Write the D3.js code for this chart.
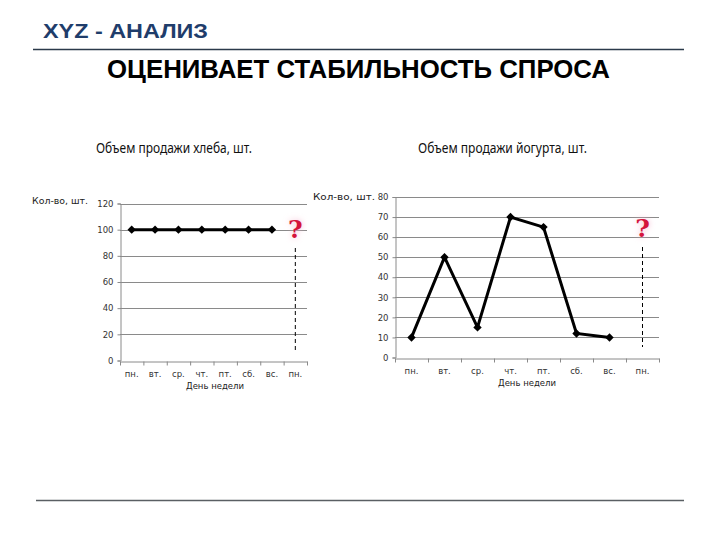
<!DOCTYPE html>
<html>
<head>
<meta charset="utf-8">
<script src="https://cdn.jsdelivr.net/npm/d3@7"></script>
<style>
  body { margin: 0; background: #fff; }
  svg { display: block; }
  .tick text { font-family: "DejaVu Sans", Verdana, sans-serif; }
</style>
</head>
<body>
<svg id="chart" width="720" height="540"></svg>
<script>
// Days of the week, last one is the "next monday" we want to predict
const days = ['пн.', 'вт.', 'ср.', 'чт.', 'пт.', 'сб.', 'вс.', 'пн.'];
const breadSales = [100, 100, 100, 100, 100, 100, 100];
const yogurtSales = [10, 50, 15, 70, 65, 12, 10];
const breadTicks = [0, 20, 40, 60, 80, 100, 120];
const yogurtTicks = [0, 10, 20, 30, 40, 50, 60, 70, 80];

const svg = d3.select('#chart');

// Header
svg.append('text')
  .attr('x', 43).attr('y', 38)
  .attr('font-family', '"Liberation Sans", Arial, sans-serif')
  .attr('font-weight', 'bold')
  .attr('font-size', 20)
  .attr('fill', '#1f3d6b')
  .attr('textLength', 165)
  .attr('lengthAdjust', 'spacingAndGlyphs')
  .text('XYZ - АНАЛИЗ');

svg.append('line')
  .attr('x1', 33).attr('x2', 684)
  .attr('y1', 49.5).attr('y2', 49.5)
  .attr('stroke', '#2b3a4a')
  .attr('stroke-width', 1.5);

svg.append('text')
  .attr('x', 107).attr('y', 78)
  .attr('font-family', '"Liberation Sans", Arial, sans-serif')
  .attr('font-weight', 'bold')
  .attr('font-size', 25)
  .attr('fill', '#000')
  .attr('textLength', 503)
  .attr('lengthAdjust', 'spacingAndGlyphs')
  .text('ОЦЕНИВАЕТ СТАБИЛЬНОСТЬ СПРОСА');

svg.append('line')
  .attr('x1', 36).attr('x2', 684)
  .attr('y1', 500.5).attr('y2', 500.5)
  .attr('stroke', '#5a5f63')
  .attr('stroke-width', 1.5);

// glow for the question marks
const defs = svg.append('defs');
defs.append('filter').attr('id', 'glow')
  .attr('x', '-50%').attr('y', '-50%').attr('width', '200%').attr('height', '200%')
  .append('feGaussianBlur').attr('stdDeviation', 3);

function drawChart(opts) {
  const { values, ticks, maxY, left, right, top, bottom } = opts;
  const g = svg.append('g');

  const x = d3.scaleLinear().domain([0, days.length]).range([left, right]);
  const y = d3.scaleLinear().domain([0, maxY]).range([bottom, top]);

  // title
  g.append('text')
    .attr('x', opts.titleX).attr('y', 153)
    .attr('font-family', '"Noto Sans", "Open Sans", sans-serif')
    .attr('font-size', 13.5)
    .attr('fill', '#111')
    .attr('textLength', opts.titleW)
    .attr('lengthAdjust', 'spacingAndGlyphs')
    .text(opts.title);

  // gridlines
  g.append('g')
    .selectAll('line')
    .data(ticks.filter(t => t > 0))
    .join('line')
    .attr('x1', left).attr('x2', right)
    .attr('y1', d => Math.round(y(d)) + 0.5)
    .attr('y2', d => Math.round(y(d)) + 0.5)
    .attr('stroke', '#8a8a8a')
    .attr('stroke-width', 1);

  // y axis
  const yAxis = g.append('g')
    .attr('transform', `translate(${left + 0.5},0)`)
    .call(d3.axisLeft(y).tickValues(ticks).tickSize(3).tickPadding(4));
  yAxis.select('.domain').attr('stroke', '#8a8a8a');
  yAxis.selectAll('.tick line').attr('stroke', '#8a8a8a');
  yAxis.selectAll('.tick text').attr('font-size', 8.5).attr('fill', '#333');

  // x axis, ticks on category boundaries
  const xAxis = g.append('g')
    .attr('transform', `translate(0,${Math.round(bottom) + 0.5})`)
    .call(d3.axisBottom(x).tickValues(d3.range(0, days.length + 1)).tickFormat('').tickSizeInner(4).tickSizeOuter(0));
  xAxis.select('.domain').attr('stroke', '#8a8a8a');
  xAxis.selectAll('.tick line').attr('stroke', '#8a8a8a');

  g.append('g')
    .selectAll('text')
    .data(days)
    .join('text')
    .attr('x', (d, i) => x(i + 0.5))
    .attr('y', bottom + 16)
    .attr('text-anchor', 'middle')
    .attr('font-family', '"DejaVu Sans", Verdana, sans-serif')
    .attr('font-size', 8.5)
    .attr('fill', '#333')
    .text(d => d);

  g.append('text')
    .attr('x', opts.xLabelX).attr('y', bottom + 28)
    .attr('text-anchor', 'middle')
    .attr('font-family', '"DejaVu Sans", Verdana, sans-serif')
    .attr('font-size', 8.5)
    .attr('fill', '#222')
    .text('День недели');

  g.append('text')
    .attr('x', opts.yLabelX).attr('y', opts.yLabelY)
    .attr('font-family', '"DejaVu Sans", Verdana, sans-serif')
    .attr('font-size', 8.5)
    .attr('fill', '#222')
    .attr('textLength', opts.yLabelW)
    .attr('lengthAdjust', 'spacingAndGlyphs')
    .text('Кол-во, шт.');

  // sales line
  const line = d3.line()
    .x((d, i) => x(i + 0.5))
    .y(d => y(d));

  g.append('path')
    .datum(values)
    .attr('fill', 'none')
    .attr('stroke', '#000')
    .attr('stroke-width', 3)
    .attr('stroke-linejoin', 'miter')
    .attr('d', line);

  g.append('g')
    .selectAll('path')
    .data(values)
    .join('path')
    .attr('transform', (d, i) => `translate(${x(i + 0.5)},${y(d)})`)
    .attr('d', d3.symbol(d3.symbolDiamond2, 45))
    .attr('fill', '#000');

  // the unknown next monday
  const qx = x(days.length - 0.5);
  g.append('line')
    .attr('x1', qx).attr('x2', qx)
    .attr('y1', opts.dashTop).attr('y2', opts.dashBottom)
    .attr('stroke', '#000')
    .attr('stroke-width', 1)
    .attr('stroke-dasharray', '4,3');

  g.append('text')
    .attr('x', qx).attr('y', opts.qY)
    .attr('text-anchor', 'middle')
    .attr('font-family', '"DejaVu Serif", "Liberation Serif", serif')
    .attr('font-weight', 'bold')
    .attr('font-size', 25)
    .attr('fill', '#f6b6cf')
    .attr('filter', 'url(#glow)')
    .text('?');

  g.append('text')
    .attr('x', qx).attr('y', opts.qY)
    .attr('text-anchor', 'middle')
    .attr('font-family', '"DejaVu Serif", "Liberation Serif", serif')
    .attr('font-weight', 'bold')
    .attr('font-size', 25)
    .attr('fill', '#d4143c')
    .text('?');
}

drawChart({
  values: breadSales, ticks: breadTicks, maxY: 120,
  left: 120, right: 307, top: 203.5, bottom: 360.5,
  title: 'Объем продажи хлеба, шт.', titleX: 96, titleW: 156,
  xLabelX: 215, yLabelX: 32, yLabelY: 204, yLabelW: 56,
  dashTop: 248, dashBottom: 350, qY: 238
});

drawChart({
  values: yogurtSales, ticks: yogurtTicks, maxY: 80,
  left: 395, right: 659, top: 197, bottom: 357.5,
  title: 'Объем продажи йогурта, шт.', titleX: 418, titleW: 169,
  xLabelX: 527, yLabelX: 313, yLabelY: 200, yLabelW: 62,
  dashTop: 247, dashBottom: 347, qY: 237
});
</script>
</body>
</html>
